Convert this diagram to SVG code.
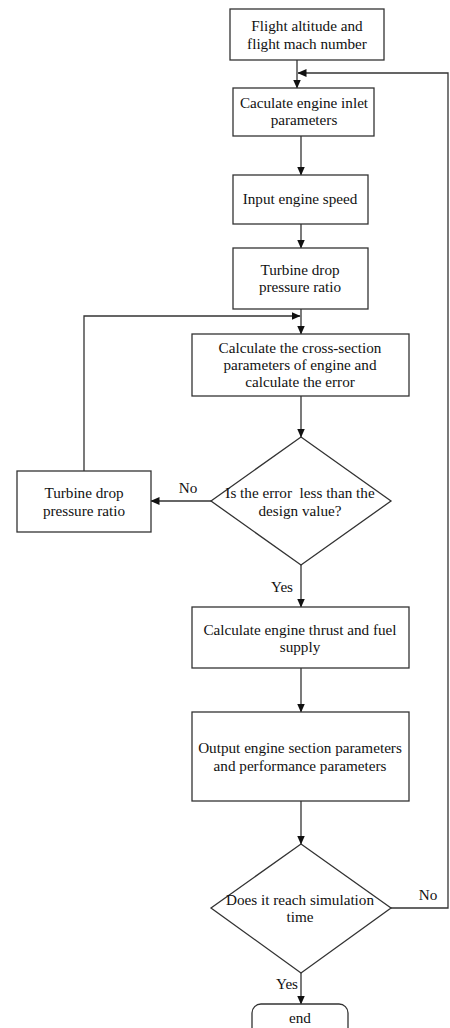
<svg xmlns="http://www.w3.org/2000/svg" width="450" height="1028" viewBox="0 0 450 1028">
<style>
.box{fill:#fff;stroke:#333;stroke-width:1.3}
.ln{fill:none;stroke:#333;stroke-width:1.3}
text{font-family:"Liberation Serif","Times New Roman",serif;font-size:15.2px;fill:#111;text-anchor:middle}
</style>
<defs>
<marker id="ah" markerWidth="9" markerHeight="8" refX="8.5" refY="4" orient="auto" markerUnits="userSpaceOnUse">
<path d="M0,0 L9,4 L0,8 Z" fill="#111"/>
</marker>
</defs>
<rect width="450" height="1028" fill="#fff"/>
<g id="connectors">
<line class="ln" x1="297" y1="60" x2="297" y2="88" marker-end="url(#ah)"/>
<line class="ln" x1="301" y1="136" x2="301" y2="175" marker-end="url(#ah)"/>
<line class="ln" x1="301" y1="224" x2="301" y2="248" marker-end="url(#ah)"/>
<line class="ln" x1="301" y1="309" x2="301" y2="334" marker-end="url(#ah)"/>
<polyline class="ln" points="84,471 84,316 300,316" marker-end="url(#ah)"/>
<line class="ln" x1="301" y1="396" x2="301" y2="437" marker-end="url(#ah)"/>
<line class="ln" x1="211" y1="501" x2="151" y2="501" marker-end="url(#ah)"/>
<line class="ln" x1="301" y1="565" x2="301" y2="607" marker-end="url(#ah)"/>
<line class="ln" x1="301" y1="668" x2="301" y2="712" marker-end="url(#ah)"/>
<line class="ln" x1="301" y1="801" x2="301" y2="844" marker-end="url(#ah)"/>
<polyline class="ln" points="391,908 448,908 448,73 298,73" marker-end="url(#ah)"/>
<line class="ln" x1="301" y1="973" x2="301" y2="1004" marker-end="url(#ah)"/>
<text x="188" y="493">No</text>
<text x="282" y="592">Yes</text>
<text x="428" y="900">No</text>
<text x="287" y="989">Yes</text>
</g>
<g id="n1"><rect class="box" x="230" y="9" width="154" height="51"/>
<text x="307" y="31">Flight altitude and</text><text x="307" y="49">flight mach number</text></g>
<g id="n2"><rect class="box" x="233" y="88" width="141" height="48"/>
<text x="304" y="108">Caculate engine inlet</text><text x="304" y="125">parameters</text></g>
<g id="n3"><rect class="box" x="233" y="175" width="135" height="49"/>
<text x="300" y="204">Input engine speed</text></g>
<g id="n4"><rect class="box" x="233" y="248" width="135" height="61"/>
<text x="300" y="275">Turbine drop</text><text x="300" y="292">pressure ratio</text></g>
<g id="n5"><rect class="box" x="192" y="334" width="217" height="62"/>
<text x="300" y="353">Calculate the cross-section</text><text x="300" y="370">parameters of engine and</text><text x="300" y="387">calculate the error</text></g>
<g id="d1"><polygon class="box" points="301,437 391,501 301,565 211,501"/>
<text x="300" y="498" xml:space="preserve">Is the error  less than the</text><text x="300" y="516">design value?</text></g>
<g id="n8"><rect class="box" x="17" y="471" width="134" height="61"/>
<text x="84" y="498">Turbine drop</text><text x="84" y="516">pressure ratio</text></g>
<g id="n6"><rect class="box" x="192" y="607" width="217" height="61"/>
<text x="300" y="635">Calculate engine thrust and fuel</text><text x="300" y="652">supply</text></g>
<g id="n7"><rect class="box" x="192" y="712" width="217" height="89"/>
<text x="300" y="753">Output engine section parameters</text><text x="300" y="771">and performance parameters</text></g>
<g id="d2"><polygon class="box" points="301,844 391,908 301,973 211,908"/>
<text x="300" y="905">Does it reach simulation</text><text x="300" y="922">time</text></g>
<g id="end"><rect class="box" x="252" y="1004" width="96" height="36" rx="9" ry="9"/>
<text x="300" y="1023">end</text></g>
</svg>
